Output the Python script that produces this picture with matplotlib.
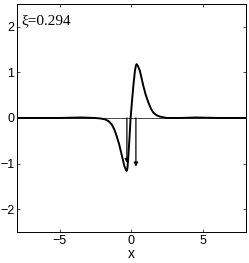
import matplotlib
matplotlib.use("Agg")
import matplotlib.pyplot as plt

# curve
xs = [-8, -5, -3.5, -2.6, -2.2, -1.85, -1.6, -1.38, -1.2, -1.03, -0.85, -0.69,
      -0.5, -0.4, -0.34, -0.28, -0.22, -0.14, -0.06, 0.04, 0.13, 0.24, 0.31,
      0.36, 0.45, 0.59, 0.83, 1.0, 1.18, 1.35, 1.52, 1.75, 1.99, 2.45, 3.5,
      4.5, 6, 8]
ys = [0, 0, 0.01, 0.0, -0.01, -0.03, -0.07, -0.14, -0.25, -0.40, -0.59, -0.80,
      -1.05, -1.13, -1.16, -1.10, -0.84, -0.45, 0.0, 0.38, 0.70, 1.03, 1.15,
      1.18, 1.14, 1.03, 0.70, 0.50, 0.34, 0.21, 0.12, 0.06, 0.03, 0.0, 0.0,
      0.01, 0, 0]

arrow_x = [-0.32, 0.31]
arrow_y = [-0.99, -1.07]
label = "\u03be=0.294"

plt.rcParams['font.family'] = ['Liberation Sans', 'DejaVu Sans']
fig = plt.figure(figsize=(2.49, 2.63), dpi=100)
ax = fig.add_axes([0.068, 0.118, 0.92, 0.867])

ax.axhline(0, color='black', lw=0.5)
ax.plot(xs, ys, 'k-', lw=1.4)
for ax_, ay_ in zip(arrow_x, arrow_y):
    ax.annotate('', xy=(ax_, ay_), xytext=(ax_, 0),
                arrowprops=dict(arrowstyle='-|>', color='black', lw=0.9,
                                mutation_scale=6, shrinkA=0, shrinkB=0))

ax.text(-7.7, 2.12, label, family=['Liberation Serif', 'DejaVu Serif'],
        fontsize=11, va='center')

ax.set_xlim(-8, 8)
ax.set_ylim(-2.5, 2.5)
ax.set_xticks([-5, 0, 5])
ax.set_yticks([-2, -1, 0, 1, 2])
ax.tick_params(direction='in', top=True, right=True, labelsize=9, length=2,
               width=0.5, pad=2)
for s in ax.spines.values():
    s.set_linewidth(0.7)
ax.set_xlabel('x', fontsize=10, labelpad=0)

fig.savefig('out.png', dpi=100)
